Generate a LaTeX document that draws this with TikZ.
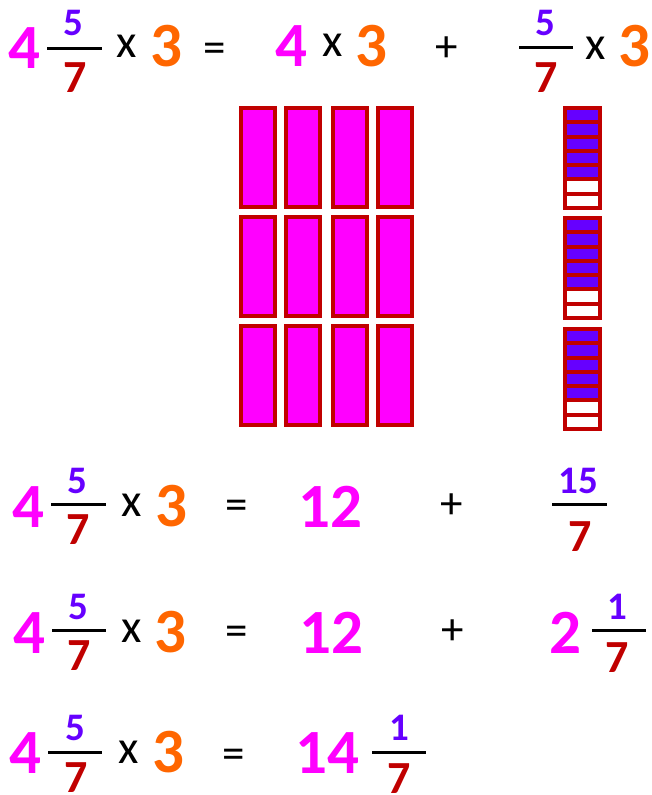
\documentclass[tikz,border=0pt]{standalone}
\usepackage{fontspec}
\setmainfont{Carlito}
\definecolor{mag}{HTML}{FF00FF}
\definecolor{purp}{HTML}{6600FF}
\definecolor{dred}{HTML}{C00000}
\definecolor{orng}{HTML}{FF6600}
\tikzset{
  bigd/.style={font=\fontsize{63}{63}\selectfont\bfseries, anchor=base, inner sep=0pt},
  numd/.style={font=\fontsize{39}{39}\selectfont\bfseries, anchor=base, inner sep=0pt, text=purp},
  dend/.style={font=\fontsize{46}{46}\selectfont\bfseries, anchor=base, inner sep=0pt, text=dred},
  timesop/.style={font=\fontsize{47}{47}\selectfont, anchor=base, inner sep=0pt},
  pluseq/.style={font=\fontsize{45}{45}\selectfont, anchor=center, inner sep=0pt, yshift=-3pt},
  eqop/.style={font=\fontsize{45}{45}\selectfont, anchor=center, inner sep=0pt, yshift=-7pt},
  fracbar/.style={line width=3pt, black},
  wholebar/.style={line width=4pt, draw=dred, fill=mag},
  cellbox/.style={line width=4pt, draw=dred}
}
\begin{document}
\begin{tikzpicture}[x=1pt, y=-1pt]
\useasboundingbox (0,0) rectangle (651,795);
% ---------- Row 1 ----------
\node[bigd, text=mag] (r1a) at (24,68) {4};
\node[numd] (r1n) at (73,35) {5};
\draw[fracbar] (47,48) -- (102,48);
\node[dend] (r1d) at (75,92) {7};
\node[timesop] (r1x) at (127,57) {x};
\node[bigd, text=orng] (r1t) at (166,66) {3};
\node[eqop] (r1eq) at (214.5,46) {=};
\node[bigd, text=mag] (r1b) at (291,66) {4};
\node[timesop] (r1x2) at (333,56) {x};
\node[bigd, text=orng] (r1t2) at (371,66) {3};
\node[pluseq] (r1p) at (447,46) {+};
\node[numd] (r1n2) at (545,35) {5};
\draw[fracbar] (519,47) -- (573,47);
\node[dend] (r1d2) at (546,92) {7};
\node[timesop] (r1x3) at (596,59) {x};
\node[bigd, text=orng] (r1t3) at (634,66) {3};
% ---------- Pink wholes ----------
\foreach \xa in {239,284,331,376}{
  \foreach \ya in {106,215,324}{
    \draw[wholebar] (\xa+2,\ya+2) rectangle (\xa+36,\ya+101);
  }
}
% ---------- Sevenths bars ----------
\foreach \ya in {106,216,327}{
  \foreach \i in {0,...,4}{
    \fill[purp] (565,{\ya+2+\i*14.286}) rectangle (600,{\ya+2+(\i+1)*14.286});
  }
  \foreach \i in {0,...,6}{
    \draw[cellbox] (565,{\ya+2+\i*14.286}) rectangle (600,{\ya+2+(\i+1)*14.286});
  }
}
% ---------- Row 2 ----------
\node[bigd, text=mag] (r2a) at (28,527) {4};
\node[numd] (r2n) at (77,493) {5};
\draw[fracbar] (51,504) -- (106,504);
\node[dend] (r2d) at (78,544) {7};
\node[timesop] (r2x) at (132,516) {x};
\node[bigd, text=orng] (r2t) at (171,526) {3};
\node[eqop] (r2eq) at (237,503) {=};
\node[bigd, text=mag] (r2w) at (330,527) {12};
\node[pluseq] (r2p) at (452,503) {+};
\node[numd] (r2n2) at (578,493) {15};
\draw[fracbar] (552,504) -- (607,504);
\node[dend] (r2d2) at (580,551) {7};
% ---------- Row 3 ----------
\node[bigd, text=mag] (r3a) at (29,653) {4};
\node[numd] (r3n) at (78,619) {5};
\draw[fracbar] (52,630) -- (106,630);
\node[dend] (r3d) at (79,670) {7};
\node[timesop] (r3x) at (132,642) {x};
\node[bigd, text=orng] (r3t) at (170,652) {3};
\node[eqop] (r3eq) at (237,629) {=};
\node[bigd, text=mag] (r3w) at (331,653) {12};
\node[pluseq] (r3p) at (453,629) {+};
\node[bigd, text=mag] (r3m) at (565,653) {2};
\node[numd] (r3n2) at (617,619) {1};
\draw[fracbar] (592,630) -- (646,630);
\node[dend] (r3d2) at (617,672) {7};
% ---------- Row 4 ----------
\node[bigd, text=mag] (r4a) at (25,773) {4};
\node[numd] (r4n) at (75,740) {5};
\draw[fracbar] (48,752) -- (102,752);
\node[dend] (r4d) at (76,792) {7};
\node[timesop] (r4x) at (129,763) {x};
\node[bigd, text=orng] (r4t) at (168,772) {3};
\node[eqop] (r4eq) at (234,752) {=};
\node[bigd, text=mag] (r4w) at (327,773) {14};
\node[numd] (r4n2) at (399,740) {1};
\draw[fracbar] (372,752) -- (426,752);
\node[dend] (r4d2) at (399,793) {7};
\end{tikzpicture}
\end{document}
